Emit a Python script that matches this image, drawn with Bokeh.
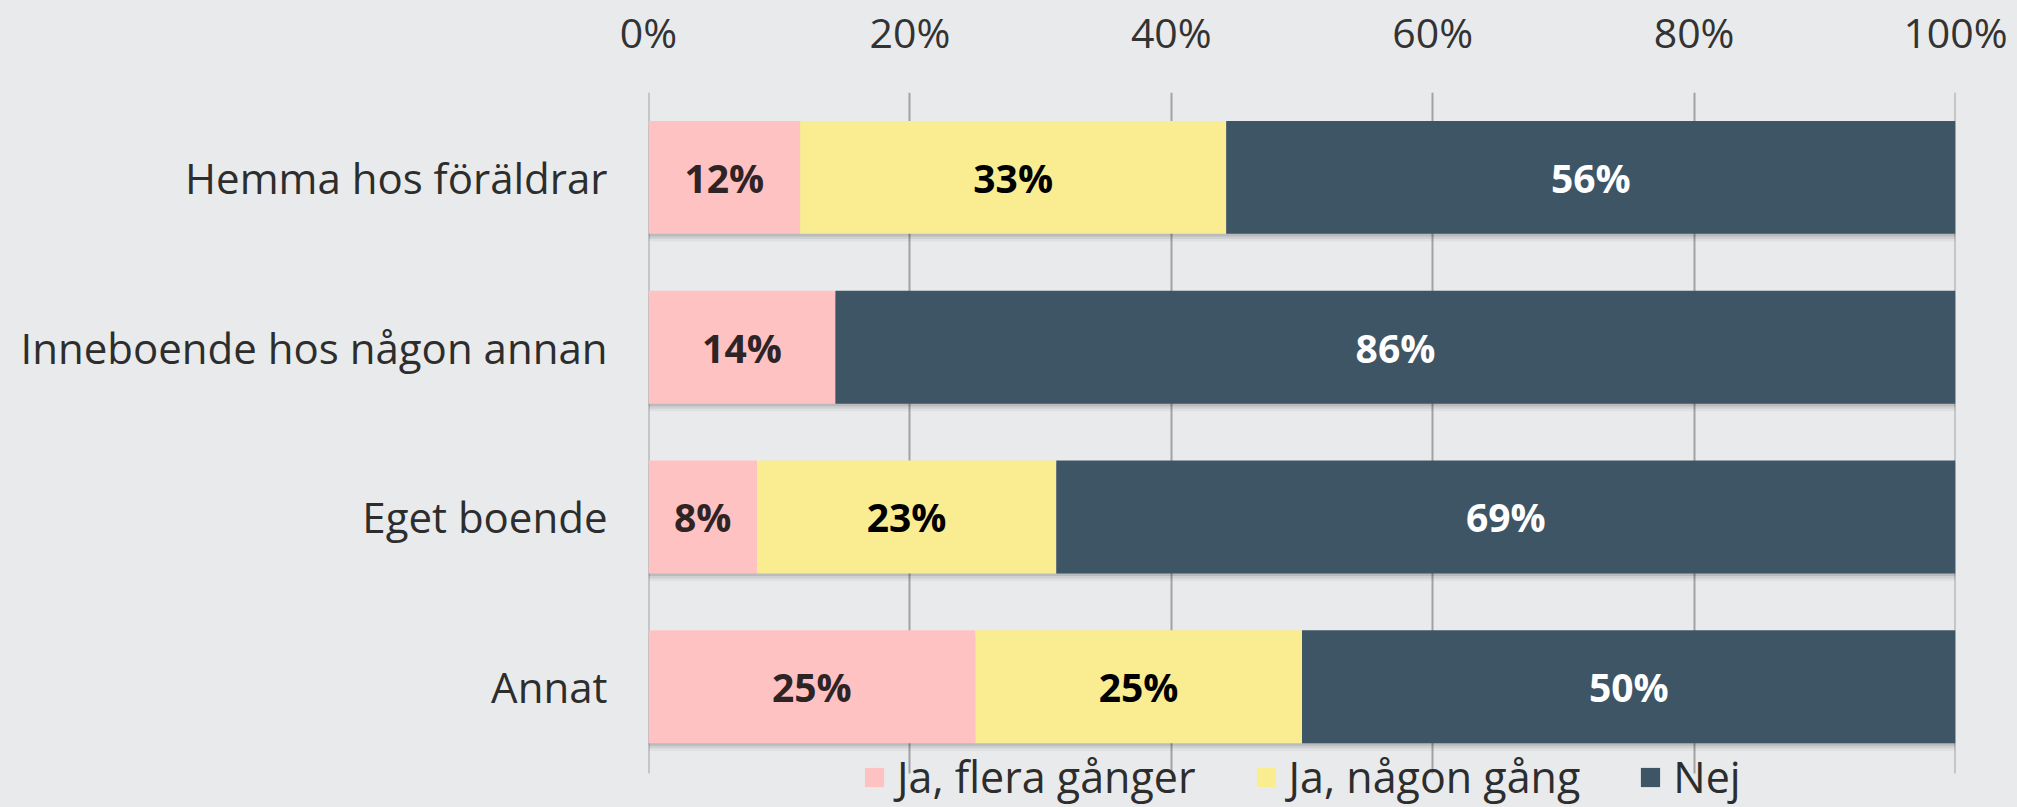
from bokeh.plotting import figure
from bokeh.models import (ColumnDataSource, Range1d, Legend, LegendItem, FixedTicker, LinearAxis,
                          CustomLabelingPolicy)
from bokeh.transform import dodge
from bokeh.core.properties import value
from bokeh.embed import file_html
from bokeh.resources import INLINE

# ---- data ----
categories = ["Hemma hos föräldrar", "Inneboende hos någon annan", "Eget boende", "Annat"]
series = ["Ja, flera gånger", "Ja, någon gång", "Nej"]
ja_flera = [11.6, 14.3, 8.3, 25.0]
ja_nagon = [32.6, 0.0, 22.9, 25.0]
nej = [55.8, 85.7, 68.8, 50.0]
tick_values = [0, 20, 40, 60, 80, 100]
tick_labels = ["0%", "20%", "40%", "60%", "80%", "100%"]

# ---- styles ----
BG = "#E9EAEC"
colors = ["#FFC2C2", "#FAED91", "#3E5566"]
label_colors = ["#2E2426", "#000000", "#FFFFFF"]
FONT = "Open Sans"
BAR_H = 0.665

n = len(categories)
ypos = [n - 1 - i for i in range(n)]   # first category on top
keys = ["s0", "s1", "s2"]
src = ColumnDataSource(dict(y=ypos, cat=categories, s0=ja_flera, s1=ja_nagon, s2=nej,
                            total=[a + b + c for a, b, c in zip(ja_flera, ja_nagon, nej)]))

p = figure(width=2012, height=806, output_backend="svg", toolbar_location=None,
           y_range=Range1d(-0.5 - 0.205, n - 0.5), x_range=Range1d(0, 100),
           x_axis_location="above",
           min_border_left=648, min_border_right=57, min_border_top=90, min_border_bottom=0)
p.background_fill_color = BG
p.border_fill_color = BG
p.outline_line_color = None
p.xgrid.grid_line_color = None
p.ygrid.grid_line_color = None

# soft shadow under the bars
for off, al in [(-0.015, 0.10), (-0.03, 0.07), (-0.045, 0.04)]:
    p.hbar(y=dodge("y", off), left=0, right="total", height=BAR_H,
           source=src, fill_color="#000000", fill_alpha=al, line_color=None)

rends = p.hbar_stack(keys, y="y", height=BAR_H, color=colors, source=src, line_color=None)

# value labels
lx, ly, lt, lc = [], [], [], []
for i in range(n):
    left = 0.0
    for k, vals in enumerate([ja_flera, ja_nagon, nej]):
        v = vals[i]
        if v > 0:
            lx.append(left + v / 2)
            ly.append(ypos[i])
            lt.append(f"{round(v)}%")
            lc.append(label_colors[k])
        left += v
lsrc = ColumnDataSource(dict(x=lx, y=ly, t=lt, c=lc))
p.text(x="x", y="y", text="t", source=lsrc, text_color="c", text_align="center",
       text_baseline="middle", text_font=value(FONT), text_font_style="bold",
       text_font_size="39px")

# top axis nearest the frame: its inward ticks serve as vertical grid lines under the bars
xg = p.xaxis[0]
xg.ticker = FixedTicker(ticks=tick_values)
xg.axis_line_color = None
xg.minor_tick_line_color = None
xg.major_tick_out = 0
xg.major_tick_in = 681
xg.major_tick_line_color = "#A2A2A2"
xg.major_tick_line_width = 2
xg.level = "underlay"
xg.major_label_policy = CustomLabelingPolicy(code="return []")
xg.major_label_standoff = 0

# second top axis: the percentage labels
xa = LinearAxis(ticker=FixedTicker(ticks=tick_values))
xa.major_label_overrides = {v: l for v, l in zip(tick_values, tick_labels)}
xa.axis_line_color = None
xa.major_tick_line_color = None
xa.minor_tick_line_color = None
xa.major_tick_out = 0
xa.major_tick_in = 0
xa.major_label_standoff = 22
xa.major_label_text_font = FONT
xa.major_label_text_font_size = "41px"
xa.major_label_text_color = "#333333"
p.add_layout(xa, "above")

ya = p.yaxis[0]
ya.ticker = FixedTicker(ticks=ypos)
ya.major_label_overrides = {y: c for y, c in zip(ypos, categories)}
ya.axis_line_color = None
ya.major_tick_line_color = None
ya.minor_tick_line_color = None
ya.major_tick_out = 0
ya.major_tick_in = 0
ya.major_label_standoff = 41
ya.major_label_text_font = FONT
ya.major_label_text_font_size = "42px"
ya.major_label_text_color = "#2D2D2D"

legend = Legend(items=[LegendItem(label=s, renderers=[r]) for s, r in zip(series, rends)],
                orientation="horizontal", location=(214, 0),
                background_fill_alpha=0, border_line_color=None,
                label_text_font=FONT, label_text_font_size="43px", label_text_color="#2D2D2D",
                glyph_width=24, glyph_height=24, label_standoff=11, spacing=58,
                padding=0, margin=0)
p.add_layout(legend)

html = file_html(p, INLINE)
html = html.replace("<body>", '<body style="background:%s">' % BG)
open("out.html", "w").write(html)
